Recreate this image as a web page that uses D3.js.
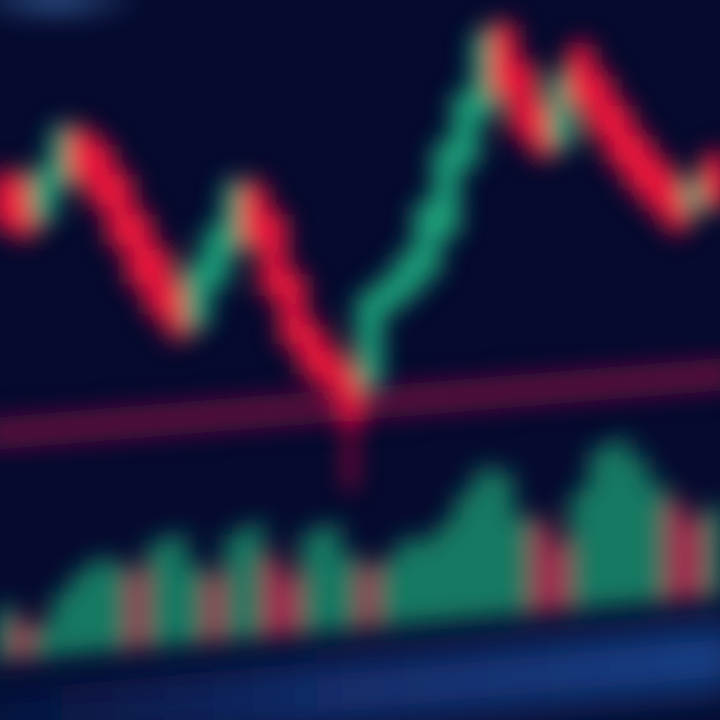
<!DOCTYPE html>
<html><head><meta charset="utf-8">
<script src="https://cdn.jsdelivr.net/npm/d3@7"></script>
<style>html,body{margin:0;padding:0;background:#050a2e;overflow:hidden}</style>
</head><body><svg id="chart" width="720" height="720"></svg>
<script>
const categories = ["1","2","3","4","5","6","7","8","9","10","11","12","13","14","15","16","17","18","19","20","21","22","23","24","25","26","27","28","29","30","31","32","33","34","35","36","37","38"];
const openValues  = [95.0,94.6,92.1,95.0,98.8,97.5,95.0,91.7,88.8,85.8,83.3,86.7,89.6,94.2,91.7,86.7,82.5,80.4,78.8,78.3,84.6,85.8,87.5,90.8,96.7,100.8,107.5,104.2,100.8,98.3,105.8,103.3,100.8,98.3,96.3,94.6,92.9,96.7];
const closeValues = [91.7,90.8,95.4,98.8,95.4,93.3,90.0,86.7,84.2,82.5,87.5,90.4,94.2,90.0,85.8,81.7,79.2,77.9,75.4,85.0,86.3,88.3,92.5,97.5,101.7,106.7,102.5,99.2,97.5,103.3,101.7,99.2,96.7,94.6,92.9,91.3,94.6,93.3];
const highValues  = [96.2,95.6,96.3,99.9,99.6,98.4,95.9,92.6,89.7,86.8,88.4,91.5,95.3,95.1,92.5,87.6,83.4,81.3,79.6,85.9,87.2,89.2,93.4,98.4,102.6,107.8,108.4,105.1,101.7,104.2,106.7,104.2,101.7,99.2,97.2,95.5,95.5,97.6];
const lowValues   = [90.6,89.9,91.2,94.2,94.5,92.4,89.1,85.8,83.3,81.4,82.3,85.9,88.8,89.1,84.9,80.8,78.3,77.0,69.2,77.2,83.8,85.0,86.6,90.0,95.8,100.0,101.6,98.3,96.6,97.4,100.8,98.3,95.8,93.7,92.0,90.4,92.0,92.4];
const volumeValues = [24,16,12,28,38,44,40,36,50,52,36,30,50,54,36,26,48,50,34,28,30,40,38,46,60,72,68,46,42,30,56,76,80,70,56,46,36,42];
const volumeUp = [1,0,1,1,1,1,1,0,1,1,1,0,1,1,0,0,1,1,1,0,1,1,1,1,1,1,1,1,0,0,1,1,1,1,1,0,0,1];
const supportLevels = [73.8, 78.9];

const W = 720, H = 720;
const GREEN = "#1fa37a", RED = "#f0123e";
const svg = d3.select("#chart");
const defs = svg.append("defs");

function blur(id, sd) {
  defs.append("filter").attr("id", id)
    .attr("x", "-50%").attr("y", "-50%").attr("width", "200%").attr("height", "200%")
    .append("feGaussianBlur").attr("stdDeviation", sd);
}
blur("b12", 12); blur("b13", 13); blur("b20", 20);

const gTop = defs.append("radialGradient").attr("id", "glowTop");
gTop.append("stop").attr("offset", "0%").attr("stop-color", "#3f72b0").attr("stop-opacity", 0.8);
gTop.append("stop").attr("offset", "100%").attr("stop-color", "#3f72b0").attr("stop-opacity", 0);
const gBlue = defs.append("linearGradient").attr("id", "blueBand").attr("x1", 0).attr("x2", 1);
gBlue.append("stop").attr("offset", "0%").attr("stop-color", "#0c2560").attr("stop-opacity", 0.35);
gBlue.append("stop").attr("offset", "45%").attr("stop-color", "#15397f").attr("stop-opacity", 0.8);
gBlue.append("stop").attr("offset", "100%").attr("stop-color", "#1a4690").attr("stop-opacity", 0.95);

svg.append("rect").attr("width", W).attr("height", H).attr("fill", "#050a2e");
svg.append("ellipse").attr("cx", 55).attr("cy", 0).attr("rx", 90).attr("ry", 22)
  .attr("fill", "url(#glowTop)").attr("filter", "url(#b12)");

const x = d3.scaleBand().domain(categories).range([-5, 725]).padding(0.02);
const y = d3.scaleLinear().domain([50, 110]).range([720, 0]);
const vy = d3.scaleLinear().domain([0, 100]).range([0, 200]);

const data = categories.map((c, i) => ({c, o: openValues[i], cl: closeValues[i], h: highValues[i], l: lowValues[i], v: volumeValues[i], up: volumeUp[i]}));

// bottom blue band + volume (perspective skew)
const vol = svg.append("g").attr("transform", "translate(0,655) skewY(-5.15)");
vol.append("rect").attr("x", -20).attr("y", 36).attr("width", 760).attr("height", 64)
  .attr("fill", "url(#blueBand)").attr("filter", "url(#b20)");
vol.append("g").attr("filter", "url(#b12)").selectAll("rect").data(data).join("rect")
  .attr("x", d => x(d.c) - 2).attr("width", x.step() + 2)
  .attr("y", d => -vy(d.v)).attr("height", d => vy(d.v) + 6)
  .attr("fill", d => d.up ? "#178a6a" : "#b82a52").attr("opacity", 0.85);

// support line
const lineG = svg.append("g").attr("filter", "url(#b12)");
const sx = [x(categories[0]) - x.step() / 2, x(categories[categories.length - 1]) + x.step() * 1.5];
lineG.append("path")
  .attr("d", d3.line().x((d, i) => sx[i]).y(d => y(d))(supportLevels))
  .attr("stroke", "#5a0d3c").attr("stroke-width", 32).attr("fill", "none");

// candles
const cg = svg.append("g").attr("filter", "url(#b12)");
const bw = x.bandwidth();
cg.selectAll("line").data(data).join("line")
  .attr("x1", d => x(d.c) + bw / 2).attr("x2", d => x(d.c) + bw / 2)
  .attr("y1", d => y(d.h)).attr("y2", d => y(d.l))
  .attr("stroke", d => d.cl >= d.o ? GREEN : RED).attr("stroke-width", 9).attr("opacity", 0.8);
cg.selectAll("rect").data(data).join("rect")
  .attr("x", d => x(d.c) - 4).attr("width", bw + 8)
  .attr("y", d => y(Math.max(d.o, d.cl)) - 5)
  .attr("height", d => Math.abs(y(d.o) - y(d.cl)) + 10)
  .attr("fill", d => d.cl >= d.o ? GREEN : RED);
</script></body></html>
